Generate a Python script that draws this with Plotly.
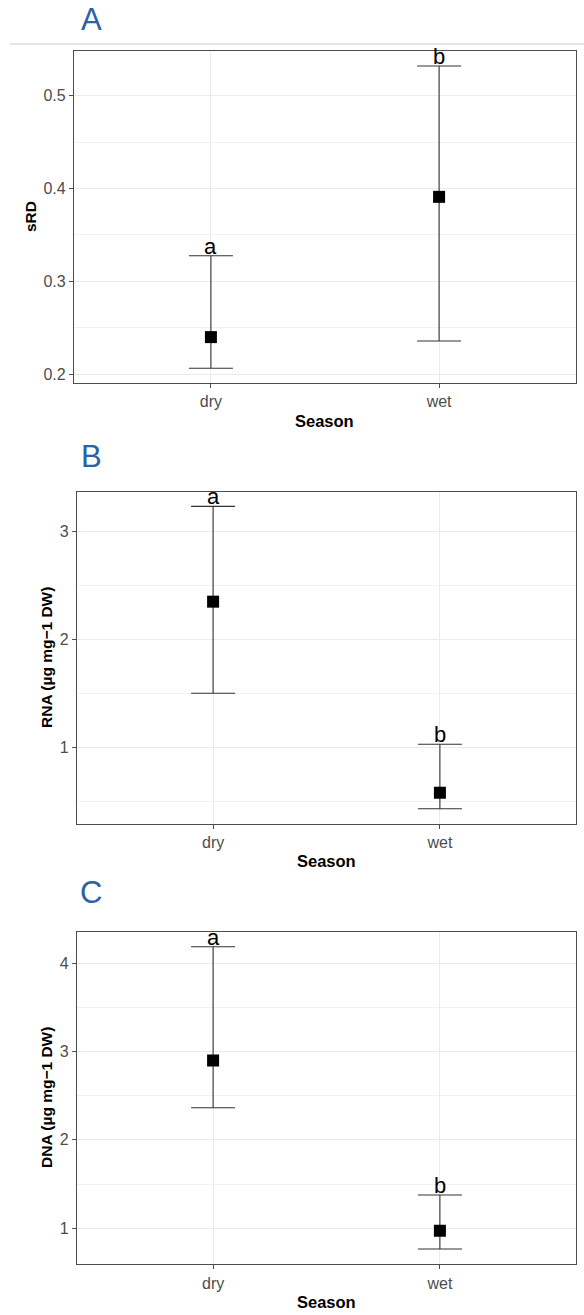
import plotly.graph_objects as go

# Season means with lower/upper interval bounds for each response
seasons = ["dry", "wet"]

srd_mean = [0.240, 0.391]
srd_lower = [0.2065, 0.2358]
srd_upper = [0.3276, 0.5318]
srd_letters = ["a", "b"]

rna_mean = [2.351, 0.579]
rna_lower = [1.501, 0.430]
rna_upper = [3.235, 1.028]
rna_letters = ["a", "b"]

dna_mean = [2.898, 0.973]
dna_lower = [2.363, 0.766]
dna_upper = [4.184, 1.377]
dna_letters = ["a", "b"]

panels = [
    dict(tag="A", ytitle="sRD", mean=srd_mean, lo=srd_lower, hi=srd_upper,
         letters=srd_letters, yrange=[0.1906, 0.548], dtick=0.1, minor=0.05,
         xdom=[74 / 584, 576 / 584], ydom=[1 - 383 / 1315, 1 - 51 / 1315],
         tagy=19.5, ytitle_x=30, season_y=421),
    dict(tag="B", ytitle="RNA (µg mg−1 DW)", mean=rna_mean, lo=rna_lower, hi=rna_upper,
         letters=rna_letters, yrange=[0.289, 3.368], dtick=1, minor=0.5,
         xdom=[77 / 584, 576 / 584], ydom=[1 - 824 / 1315, 1 - 492 / 1315],
         tagy=456, ytitle_x=46, season_y=861),
    dict(tag="C", ytitle="DNA (µg mg−1 DW)", mean=dna_mean, lo=dna_lower, hi=dna_upper,
         letters=dna_letters, yrange=[0.593, 4.354], dtick=1, minor=0.5,
         xdom=[77 / 584, 576 / 584], ydom=[1 - 1264.3 / 1315, 1 - 931.7 / 1315],
         tagy=892, ytitle_x=46, season_y=1302),
]

W, H = 584, 1315
fig = go.Figure()
layout = dict(
    width=W, height=H,
    margin=dict(l=0, r=0, t=0, b=0),
    paper_bgcolor="white", plot_bgcolor="white",
    showlegend=False,
    font=dict(family="Liberation Sans, Arial, sans-serif"),
    annotations=[], shapes=[],
)

for i, p in enumerate(panels, start=1):
    suffix = "" if i == 1 else str(i)
    xa, ya = "x" + suffix, "y" + suffix
    err_plus = [h - m for h, m in zip(p["hi"], p["mean"])]
    err_minus = [m - l for m, l in zip(p["mean"], p["lo"])]
    fig.add_trace(go.Scatter(
        x=seasons, y=p["mean"], mode="markers", xaxis=xa, yaxis=ya,
        marker=dict(symbol="square", size=12, color="black"),
        error_y=dict(type="data", symmetric=False, array=err_plus,
                     arrayminus=err_minus, color="#333333", thickness=1.1, width=22),
    ))
    layout["xaxis" + suffix] = dict(
        domain=p["xdom"], anchor=ya, type="category", range=[-0.6, 1.6],
        showgrid=True, gridcolor="#ebebeb", gridwidth=1,
        showline=True, mirror=True, linecolor="#4d4d4d", linewidth=1.2,
        ticks="outside", ticklen=4, tickcolor="#4d4d4d",
        tickfont=dict(size=16, color="#4d4d4d"), zeroline=False,
    )
    layout["yaxis" + suffix] = dict(
        domain=p["ydom"], anchor=xa, range=p["yrange"], dtick=p["dtick"], tick0=0,
        showgrid=True, gridcolor="#ebebeb", gridwidth=1,
        minor=dict(dtick=p["minor"], tick0=0, showgrid=True, gridcolor="#f2f2f2",
                   gridwidth=1, ticks=""),
        showline=True, mirror=True, linecolor="#4d4d4d", linewidth=1.2,
        ticks="outside", ticklen=4, tickcolor="#4d4d4d",
        tickfont=dict(size=16, color="#4d4d4d"), zeroline=False,
    )
    # significance letters above the upper bounds
    for s, h, letter in zip(seasons, p["hi"], p["letters"]):
        layout["annotations"].append(dict(
            x=s, y=h, xref=xa, yref=ya, text=letter, showarrow=False,
            yanchor="bottom", yshift=-5, font=dict(size=22, color="black"),
        ))
    # panel tag
    layout["annotations"].append(dict(
        x=91 / W, y=1 - p["tagy"] / H, xref="paper", yref="paper", text=p["tag"],
        showarrow=False, xanchor="center", yanchor="middle",
        font=dict(size=31, color="#2a62a5"),
    ))
    # axis titles
    layout["annotations"].append(dict(
        x=p["ytitle_x"] / W, y=sum(p["ydom"]) / 2, xref="paper", yref="paper",
        text="<b>" + p["ytitle"] + "</b>", textangle=-90, showarrow=False,
        xanchor="center", yanchor="middle", font=dict(size=15.5, color="black"),
    ))
    layout["annotations"].append(dict(
        x=sum(p["xdom"]) / 2, y=1 - p["season_y"] / H, xref="paper", yref="paper",
        text="<b>Season</b>", showarrow=False, xanchor="center", yanchor="middle",
        font=dict(size=16.5, color="black"),
    ))

# thin separator rule under the first tag
layout["shapes"].append(dict(
    type="line", xref="paper", yref="paper", x0=10 / W, x1=1, y0=1 - 44 / H, y1=1 - 44 / H,
    line=dict(color="#e3e3e3", width=2),
))

fig.update_layout(**layout)
fig.write_html("out.html")
